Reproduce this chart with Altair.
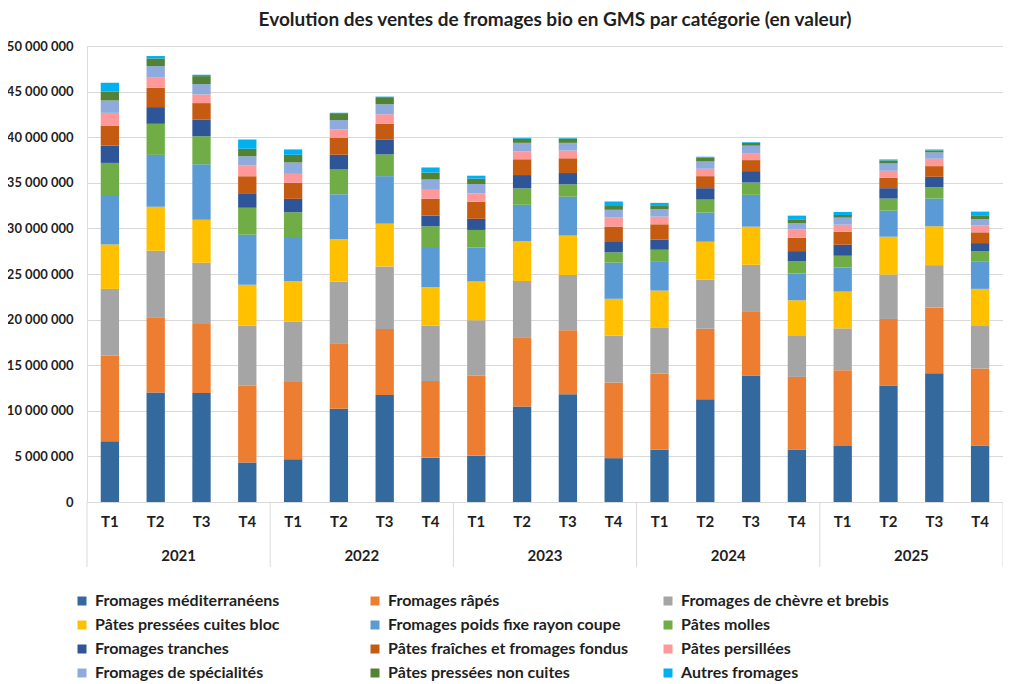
import altair as alt
import pandas as pd

years = ["2021", "2022", "2023", "2024", "2025"]
quarters = ["T1", "T2", "T3", "T4"]
periodes = [
    "2021 T1", "2021 T2", "2021 T3", "2021 T4",
    "2022 T1", "2022 T2", "2022 T3", "2022 T4",
    "2023 T1", "2023 T2", "2023 T3", "2023 T4",
    "2024 T1", "2024 T2", "2024 T3", "2024 T4",
    "2025 T1", "2025 T2", "2025 T3", "2025 T4",
]

categories = [
    "Fromages méditerranéens",
    "Fromages râpés",
    "Fromages de chèvre et brebis",
    "Pâtes pressées cuites bloc",
    "Fromages poids fixe rayon coupe",
    "Pâtes molles",
    "Fromages tranches",
    "Pâtes fraîches et fromages fondus",
    "Pâtes persillées",
    "Fromages de spécialités",
    "Pâtes pressées non cuites",
    "Autres fromages",
]
colors = [
    "#34699E", "#ED7D31", "#A5A5A5", "#FFC000", "#5B9BD5", "#70AD47",
    "#2E5597", "#C55A11", "#FF9999", "#8FAADC", "#548235", "#00B0F0",
]

# values in millions of euros
med = [6.67, 12.01, 11.94, 4.32, 4.69, 10.22, 11.73, 4.84, 5.06, 10.46, 11.82, 4.81, 5.72, 11.26, 13.87, 5.76, 6.13, 12.77, 14.12, 6.20]
rapes = [9.37, 8.25, 7.58, 8.43, 8.47, 7.19, 7.25, 8.43, 8.77, 7.60, 7.01, 8.29, 8.37, 7.74, 6.97, 7.96, 8.32, 7.30, 7.19, 8.44]
chevre = [7.33, 7.29, 6.71, 6.59, 6.59, 6.74, 6.85, 6.08, 6.10, 6.16, 6.05, 5.14, 5.06, 5.39, 5.17, 4.48, 4.59, 4.87, 4.66, 4.66]
ppcb = [4.87, 4.83, 4.72, 4.47, 4.47, 4.65, 4.69, 4.21, 4.25, 4.37, 4.33, 4.04, 4.03, 4.15, 4.18, 3.92, 4.03, 4.15, 4.26, 4.07]
poids = [5.42, 5.68, 6.08, 5.49, 4.84, 4.95, 5.21, 4.40, 3.71, 4.00, 4.26, 3.96, 3.23, 3.19, 3.49, 2.93, 2.65, 2.86, 3.04, 2.97]
molles = [3.52, 3.41, 3.08, 2.97, 2.71, 2.71, 2.38, 2.27, 1.94, 1.80, 1.36, 1.14, 1.25, 1.43, 1.35, 1.33, 1.28, 1.32, 1.25, 1.14]
tranches = [1.90, 1.83, 1.83, 1.58, 1.47, 1.61, 1.65, 1.17, 1.22, 1.46, 1.24, 1.13, 1.10, 1.25, 1.25, 1.13, 1.21, 1.14, 1.14, 0.91]
fraiches = [2.20, 2.12, 1.80, 1.86, 1.76, 1.83, 1.72, 1.84, 1.87, 1.73, 1.62, 1.69, 1.69, 1.32, 1.21, 1.47, 1.43, 1.14, 1.17, 1.18]
persillees = [1.39, 1.17, 0.95, 1.18, 0.98, 0.96, 1.03, 0.99, 0.91, 0.88, 0.84, 0.99, 0.84, 0.81, 0.77, 0.88, 0.77, 0.77, 0.81, 0.77]
specialites = [1.36, 1.21, 1.13, 1.02, 1.25, 1.02, 1.10, 1.13, 1.03, 0.92, 0.85, 0.85, 0.81, 0.80, 0.81, 0.73, 0.77, 0.80, 0.69, 0.66]
noncuites = [0.99, 0.84, 0.88, 0.81, 0.84, 0.66, 0.69, 0.77, 0.59, 0.44, 0.47, 0.51, 0.44, 0.41, 0.33, 0.41, 0.29, 0.33, 0.22, 0.44]
autres = [0.95, 0.26, 0.15, 1.02, 0.59, 0.15, 0.15, 0.55, 0.33, 0.11, 0.08, 0.40, 0.26, 0.11, 0.07, 0.40, 0.33, 0.11, 0.10, 0.40]

series = [med, rapes, chevre, ppcb, poids, molles, tranches, fraiches,
          persillees, specialites, noncuites, autres]

y_ticks = [0, 5000000, 10000000, 15000000, 20000000, 25000000,
           30000000, 35000000, 40000000, 45000000, 50000000]

rows = []
for ci, (cat, vals) in enumerate(zip(categories, series)):
    for p, v in zip(periodes, vals):
        rows.append({"periode": p, "categorie": cat, "rang": ci, "valeur": v * 1e6})
df = pd.DataFrame(rows)

n = len(periodes)
sep_df = pd.DataFrame({"pos": [i * len(quarters) for i in range(len(years) + 1)]})
year_df = pd.DataFrame({"annee": years,
                        "pos": [i * len(quarters) + len(quarters) / 2 for i in range(len(years))]})

FONT = "Lato"
TXT = "#1f1f1f"
GRID = "#d9d9d9"

bars = alt.Chart(df).mark_bar().encode(
    x=alt.X("periode:N", sort=periodes,
            scale=alt.Scale(paddingInner=0.6, paddingOuter=0.3),
            axis=alt.Axis(title=None, labelExpr="split(datum.label, ' ')[1]",
                          labelAngle=0, ticks=False, domainColor=GRID,
                          labelFont=FONT, labelFontSize=15, labelFontWeight="bold",
                          labelColor=TXT, labelPadding=12)),
    y=alt.Y("valeur:Q", stack="zero",
            scale=alt.Scale(domain=[0, 50000000], nice=False),
            axis=alt.Axis(title=None, values=y_ticks, domain=False, ticks=False,
                          gridColor=GRID, labelFont=FONT, labelFontSize=13,
                          labelFontWeight="bold", labelColor=TXT, labelPadding=14,
                          labelExpr="replace(replace(format(datum.value, ',d'), ',', ' '), ',', ' ')")),
    color=alt.Color("categorie:N",
                    scale=alt.Scale(domain=categories, range=colors),
                    legend=alt.Legend(title=None, orient="none", legendX=-13, legendY=547,
                                      direction="horizontal",
                                      columns=3, gridAlign="all", columnPadding=31,
                                      rowPadding=8, symbolType="square", symbolSize=81,
                                      symbolStrokeWidth=0, labelFont=FONT,
                                      labelFontSize=16, labelFontWeight="bold",
                                      labelColor=TXT, labelOffset=5, labelLimit=400)),
    order=alt.Order("rang:Q", sort="ascending"),
)

xq = alt.Scale(domain=[0, n], nice=False, zero=False)

rules = alt.Chart(sep_df).mark_rule(color=GRID, strokeWidth=1).encode(
    x=alt.X("pos:Q", scale=xq, axis=None),
    y=alt.value(456),
    y2=alt.value(521),
)

year_text = alt.Chart(year_df).mark_text(
    font=FONT, fontSize=15, fontWeight="bold", color=TXT, baseline="middle"
).encode(
    x=alt.X("pos:Q", scale=xq, axis=None),
    y=alt.value(510),
    text="annee:N",
)

chart = alt.layer(bars, rules, year_text).resolve_scale(x="independent").properties(
    width=916,
    height=456,
    autosize="none",
    padding={"left": 79, "top": 38, "right": 0, "bottom": 182},
    title=alt.TitleParams(
        "Evolution des ventes de fromages bio en GMS par catégorie (en valeur)",
        font=FONT, fontSize=19, fontWeight="bold", color=TXT,
        anchor="middle", offset=10, dx=10,
    ),
).configure_view(stroke=None).configure(background="white")

chart.save("out.html", embed_options={"renderer": "svg", "actions": False})
